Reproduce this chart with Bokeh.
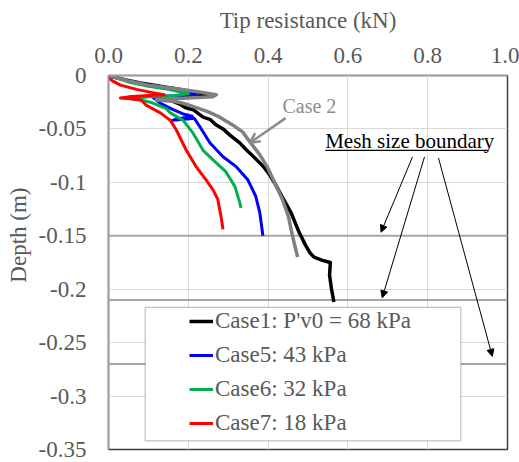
from bokeh.plotting import figure
from bokeh.models import (Range1d, LinearAxis, FixedTicker, Legend, LegendItem, Label, Title,
                          Arrow, NormalHead, OpenHead, BoxAnnotation)
from bokeh.embed import file_html
from bokeh.resources import INLINE

# ---------------- data ----------------
x_ticks = [0.0, 0.2, 0.4, 0.6, 0.8, 1.0]
x_tick_labels = ["0.0", "0.2", "0.4", "0.6", "0.8", "1.0"]
y_ticks = [0.0, -0.05, -0.1, -0.15, -0.2, -0.25, -0.3, -0.35]
y_tick_labels = ["0", "-0.05", "-0.1", "-0.15", "-0.2", "-0.25", "-0.3", "-0.35"]
mesh_boundaries = [-0.15, -0.21, -0.27]

case1_q = [0, 0.04, 0.08, 0.13, 0.18, 0.22, 0.25, 0.22, 0.17, 0.14, 0.16, 0.18, 0.192, 0.212, 0.237,
           0.254, 0.269, 0.287, 0.305, 0.329, 0.344, 0.369, 0.390, 0.404, 0.420, 0.436, 0.457,
           0.478, 0.494, 0.505, 0.515, 0.536, 0.556, 0.554, 0.559, 0.565]
case1_d = [0, -0.004, -0.007, -0.010, -0.013, -0.016, -0.018, -0.020, -0.021, -0.022, -0.024, -0.027,
           -0.030, -0.032, -0.039, -0.041, -0.046, -0.050, -0.056, -0.063, -0.069, -0.078, -0.086,
           -0.093, -0.103, -0.114, -0.128, -0.147, -0.159, -0.166, -0.170, -0.173, -0.175, -0.187,
           -0.200, -0.212]

case2_q = [0, 0.05, 0.10, 0.16, 0.22, 0.27, 0.26, 0.20, 0.14, 0.12, 0.16, 0.187, 0.22, 0.25, 0.279,
           0.31, 0.337, 0.354, 0.379, 0.40, 0.416, 0.436, 0.451, 0.461, 0.474]
case2_d = [0, -0.005, -0.009, -0.012, -0.015, -0.018, -0.020, -0.021, -0.022, -0.023, -0.024, -0.026,
           -0.030, -0.034, -0.039, -0.046, -0.053, -0.062, -0.074, -0.087, -0.100, -0.116, -0.132,
           -0.150, -0.170]

case5_q = [0, 0.06, 0.12, 0.18, 0.22, 0.17, 0.11, 0.12, 0.13, 0.162, 0.187, 0.21, 0.17, 0.16, 0.19,
           0.215, 0.229, 0.254, 0.287, 0.319, 0.349, 0.369, 0.379, 0.387]
case5_d = [0, -0.006, -0.010, -0.014, -0.017, -0.019, -0.020, -0.023, -0.026, -0.032, -0.036, -0.038,
           -0.041, -0.042, -0.041, -0.040, -0.048, -0.063, -0.076, -0.085, -0.0975, -0.113, -0.128,
           -0.150]

case6_q = [0, 0.05, 0.10, 0.15, 0.20, 0.16, 0.10, 0.06, 0.08, 0.105, 0.145, 0.155, 0.187, 0.212,
           0.237, 0.262, 0.294, 0.317, 0.329, 0.332]
case6_d = [0, -0.006, -0.010, -0.013, -0.017, -0.019, -0.020, -0.022, -0.023, -0.025, -0.031, -0.035,
           -0.042, -0.054, -0.070, -0.079, -0.090, -0.104, -0.119, -0.124]

case7_q = [0, 0.01, 0.03, 0.07, 0.11, 0.14, 0.09, 0.05, 0.03, 0.06, 0.082, 0.095, 0.13, 0.155, 0.17,
           0.195, 0.219, 0.244, 0.262, 0.274, 0.282, 0.287]
case7_d = [-0.002, -0.005, -0.009, -0.013, -0.016, -0.018, -0.019, -0.020, -0.021, -0.022, -0.023,
           -0.028, -0.035, -0.042, -0.051, -0.070, -0.085, -0.0975, -0.107, -0.116, -0.132, -0.144]

legend_labels = ["Case1: P'v0 = 68 kPa", "Case5: 43 kPa", "Case6: 32 kPa", "Case7: 18 kPa"]

FONT = "Liberation Serif"
GRAY_TXT = "#595959"

p = figure(width=519, height=462, output_backend="svg", toolbar_location=None,
           x_range=Range1d(0, 1), y_range=Range1d(-0.35, 0),
           x_axis_location=None, y_axis_location=None,
           min_border_left=105, min_border_right=12, min_border_top=75, min_border_bottom=13)
p.background_fill_color = "white"
p.border_fill_color = "white"
p.outline_line_color = "#404040"
p.outline_line_width = 1.5

xaxis = LinearAxis(ticker=FixedTicker(ticks=x_ticks),
                   major_label_overrides={t: l for t, l in zip(x_ticks, x_tick_labels)})
xaxis.axis_label = "Tip resistance (kN)"
p.add_layout(xaxis, "above")
yaxis = LinearAxis(ticker=FixedTicker(ticks=y_ticks),
                   major_label_overrides={t: l for t, l in zip(y_ticks, y_tick_labels)})
p.add_layout(yaxis, "left")

for ax in (xaxis, yaxis):
    ax.major_tick_in = 0
    ax.major_tick_out = 0
    ax.minor_tick_in = 0
    ax.minor_tick_out = 0
    ax.axis_line_color = "#a0a0a0"
    ax.axis_line_width = 1.5
    ax.major_label_text_font = FONT
    ax.major_label_text_font_size = "23px"
    ax.major_label_text_color = GRAY_TXT
    ax.axis_label_text_font = FONT
    ax.axis_label_text_font_size = "23px"
    ax.axis_label_text_color = GRAY_TXT
    ax.axis_label_text_font_style = "normal"
xaxis.major_label_standoff = 13
xaxis.axis_label_standoff = 12
yaxis.major_label_standoff = 22

# Depth axis title, positioned like the original (above the frame middle)
p.add_layout(Title(text="Depth (m)", align="right", offset=112, vertical_align="middle",
                   standoff=8, text_font=FONT, text_font_size="23px",
                   text_font_style="normal", text_color=GRAY_TXT), "left")

p.xgrid.ticker = FixedTicker(ticks=x_ticks)
p.ygrid.ticker = FixedTicker(ticks=y_ticks)
p.grid.grid_line_color = "#d9d9d9"
p.grid.grid_line_width = 1

# mesh boundary lines
for yb in mesh_boundaries:
    p.line([0, 1], [yb, yb], line_color="#a6a6a6", line_width=2)

r1 = p.line(case1_q, case1_d, line_color="black", line_width=3.5, line_join="round")
r5 = p.line(case5_q, case5_d, line_color="#0000ff", line_width=3, line_join="round")
r6 = p.line(case6_q, case6_d, line_color="#00b050", line_width=3, line_join="round")
r2 = p.line(case2_q, case2_d, line_color="#808080", line_width=3.5, line_join="round")
r7 = p.line(case7_q, case7_d, line_color="#ff0000", line_width=3, line_join="round")

# legend box
box = BoxAnnotation(left=0.092, right=0.883, top=-0.217, bottom=-0.342,
                    fill_color="white", fill_alpha=1, line_color="#333333", line_width=1.2)
p.add_layout(box)

legend = Legend(items=[LegendItem(label=legend_labels[0], renderers=[r1]),
                       LegendItem(label=legend_labels[1], renderers=[r5]),
                       LegendItem(label=legend_labels[2], renderers=[r6]),
                       LegendItem(label=legend_labels[3], renderers=[r7])],
                location=(77, 9), background_fill_alpha=0, border_line_alpha=0,
                padding=4, spacing=8, glyph_width=24, glyph_height=26, label_height=26,
                label_standoff=2, label_text_font=FONT, label_text_font_size="23px",
                label_text_color=GRAY_TXT, margin=0)
p.add_layout(legend)

# annotations
p.add_layout(Label(x=0.436, y=-0.0288, text="Case 2", text_font=FONT, text_font_size="20px",
                   text_color="#8c8c8c", text_baseline="middle", text_align="left"))
p.add_layout(Arrow(x_start=0.444, y_start=-0.0399, x_end=0.354, y_end=-0.0631,
                   line_color="#8c8c8c", line_width=2.5,
                   end=OpenHead(size=10, line_color="#8c8c8c", line_width=2.5)))

p.add_layout(Label(x=0.543, y=-0.0613, text="Mesh size boundary", text_font=FONT,
                   text_font_size="21px", text_color="black", text_baseline="middle",
                   text_align="left"))
p.line([0.543, 0.952], [-0.0701, -0.0701], line_color="black", line_width=1.2)

for xs, ys, xe, ye in [(0.762, -0.0761, 0.683, -0.1467),
                       (0.792, -0.0761, 0.686, -0.208),
                       (0.827, -0.0771, 0.962, -0.2628)]:
    p.add_layout(Arrow(x_start=xs, y_start=ys, x_end=xe, y_end=ye, line_color="black",
                       line_width=1,
                       end=NormalHead(size=7, fill_color="black", line_color="black")))

open("out.html", "w").write(file_html(p, INLINE))
